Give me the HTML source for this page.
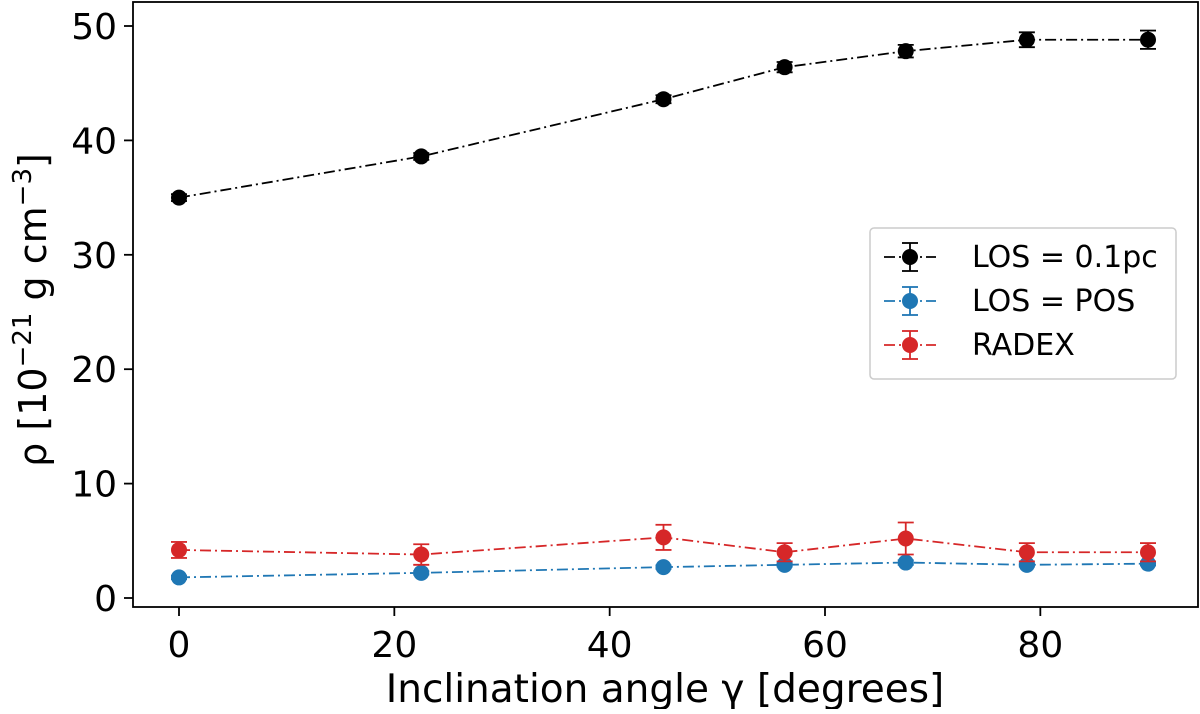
<!DOCTYPE html>
<html><head><meta charset="utf-8"><style>
body{margin:0;background:#fff}
svg{font-family:"DejaVu Sans","Liberation Sans",sans-serif}
</style></head><body>
<svg id="c" width="1200" height="709" viewBox="0 0 1200 709"></svg>
<script>
const xVals=[0,22.5,45,56.25,67.5,78.75,90];
const losVals=[35.0,38.6,43.6,46.4,47.8,48.8,48.8];
const losErr=[0.3,0.3,0.35,0.45,0.55,0.65,0.8];
const posVals=[1.8,2.2,2.7,2.9,3.1,2.9,3.0];
const posErr=[0.15,0.15,0.15,0.15,0.2,0.15,0.15];
const radexVals=[4.2,3.8,5.3,4.0,5.2,4.0,4.0];
const radexErr=[0.7,0.9,1.1,0.8,1.4,0.8,0.8];
const xTicks=[0,20,40,60,80];
const yTicks=[0,10,20,30,40,50];
const seriesNames=["LOS = 0.1pc","LOS = POS","RADEX"];
const NS="http://www.w3.org/2000/svg";
const svg=document.getElementById('c');
const X=v=>179+v*(1148-179)/90;
const Y=v=>598-v*(598-26)/50;
function el(t,a,p){const e=document.createElementNS(NS,t);for(const k in a)e.setAttribute(k,a[k]);(p||svg).appendChild(e);return e;}
const fr=el('rect',{x:133,y:2,width:1065,height:605,fill:'none',stroke:'#000','stroke-width':1.8});


xTicks.forEach(t=>{
  const l=el('line',{x1:X(t),x2:X(t),y1:607,y2:616,stroke:'#000','stroke-width':1.8});
  
  
  const tx=el('text',{x:X(t),y:657,'text-anchor':'middle','font-size':36});
  tx.textContent=t;
  
  
});
yTicks.forEach(t=>{
  const l=el('line',{x1:124,x2:133,y1:Y(t),y2:Y(t),stroke:'#000','stroke-width':1.8});
  
  
  const tx=el('text',{x:117,y:Y(t)+13,'text-anchor':'end','font-size':36});
  tx.textContent=t;
  
  
});
const xt=el('text',{x:665,y:702,'text-anchor':'middle','font-size':39});
xt.textContent='Inclination angle γ [degrees]';


const yt=el('text',{transform:'translate(46,310) rotate(-90)','text-anchor':'middle','font-size':38});
yt.innerHTML='ρ [10<tspan dy="-15" font-size="26">−21</tspan><tspan dy="15"> g cm</tspan><tspan dy="-15" font-size="26">−3</tspan><tspan dy="15">]</tspan>';


function series(vals,errs,color,name){
  const g=el('g',{});
  
  
  el('polyline',{points:vals.map((v,i)=>X(xVals[i])+','+Y(v)).join(' '),fill:'none',stroke:color,'stroke-width':1.8,'stroke-dasharray':'11 4 2 4'},g);
  vals.forEach((v,i)=>{
    const x=X(xVals[i]),y1=Y(v-errs[i]),y2=Y(v+errs[i]);
    el('line',{x1:x,x2:x,y1:y1,y2:y2,stroke:color,'stroke-width':1.8},g);
    el('line',{x1:x-8,x2:x+8,y1:y1,y2:y1,stroke:color,'stroke-width':1.8},g);
    el('line',{x1:x-8,x2:x+8,y1:y2,y2:y2,stroke:color,'stroke-width':1.8},g);
    const c=el('circle',{cx:x,cy:Y(v),r:8,fill:color},g);
    
    
  });
}
const colors=['#000','#1f77b4','#d62728'];
series(losVals,losErr,colors[0],'series-los-0.1pc');
series(posVals,posErr,colors[1],'series-los-pos');
series(radexVals,radexErr,colors[2],'series-radex');
const lg=el('g',{});


el('rect',{x:870,y:228,width:306,height:151,rx:4,fill:'#fff',stroke:'#ccc','stroke-width':1.5},lg);
seriesNames.forEach((n,i)=>{
  const y=257+i*44,c=colors[i];
  const e=el('g',{},lg);
  
  
  el('line',{x1:884,x2:936,y1:y,y2:y,stroke:c,'stroke-width':1.8,'stroke-dasharray':'11 4 2 4'},e);
  el('line',{x1:910,x2:910,y1:y-14,y2:y+14,stroke:c,'stroke-width':1.8},e);
  el('line',{x1:902,x2:918,y1:y-14,y2:y-14,stroke:c,'stroke-width':1.8},e);
  el('line',{x1:902,x2:918,y1:y+14,y2:y+14,stroke:c,'stroke-width':1.8},e);
  el('circle',{cx:910,cy:y,r:8,fill:c},e);
  const t=el('text',{x:972,y:y+10,'font-size':30},e);
  t.textContent=n;
});
</script>
</body></html>
